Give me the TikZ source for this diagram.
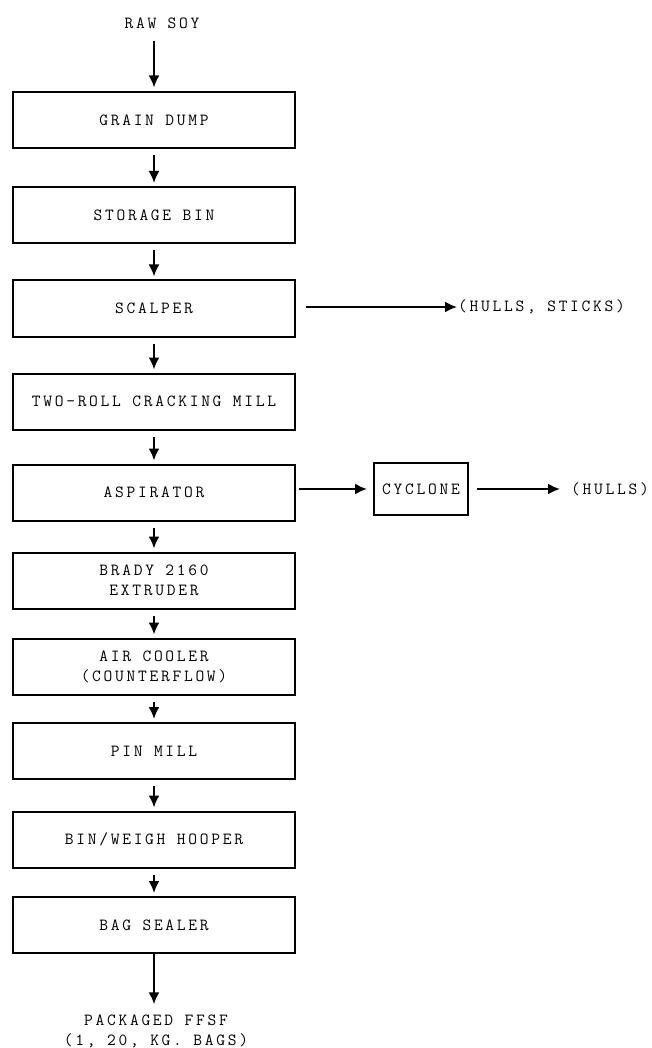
\documentclass[tikz,border=0pt]{standalone}
\usepackage{fontspec}
\setmonofont[LetterSpace=16]{Latin Modern Mono}
\usetikzlibrary{arrows.meta}
\tikzset{
  box/.style={draw, line width=2pt, minimum width=282pt, minimum height=56pt, align=center},
  lbl/.style={inner sep=0pt, align=center},
  flow/.style={->, line width=2.2pt},
  side/.style={->, line width=2pt},
}
\begin{document}
\begin{tikzpicture}[x=1pt, y=1pt, >={Latex[length=12pt,width=11pt]},
    font=\ttfamily\fontsize{17}{20}\selectfont]
\useasboundingbox (0,0) rectangle (652,-1048);
% main line
\node[lbl] (soy) at (162,-23) {RAW SOY};
\node[box] (dump) at (154,-120.5) {GRAIN DUMP};
\node[box] (storage) at (154,-215) {STORAGE BIN};
\node[box] (scalper) at (154,-308.5) {SCALPER};
\node[box] (cracking) at (154,-401.5) {TWO-ROLL CRACKING MILL};
\node[box] (aspirator) at (154,-492.5) {ASPIRATOR};
\node[box] (extruder) at (154,-580.5) {BRADY 2160\\EXTRUDER};
\node[box] (cooler) at (154,-666.5) {AIR COOLER\\(COUNTERFLOW)};
\node[box] (pinmill) at (154,-751) {PIN MILL};
\node[box] (hopper) at (154,-839.5) {BIN/WEIGH HOOPER};
\node[box] (sealer) at (154,-925) {BAG SEALER};
\node[lbl] (packaged) at (156,-1031) {PACKAGED FFSF\\(1, 20, KG. BAGS)};
% side branches
\node[box, minimum width=94pt, minimum height=52pt, inner sep=1pt] (cyclone) at (421,-489) {CYCLONE};
\node[lbl, anchor=west] (sticks) at (458,-307) {(HULLS, STICKS)};
\node[lbl, anchor=west] (hulls) at (571,-489) {(HULLS)};

\draw[flow, shorten <=12pt, shorten >=4pt] (soy.south -| dump.north) -- (dump.north);
\foreach \a/\b in {dump/storage, storage/scalper, scalper/cracking, cracking/aspirator,
    aspirator/extruder, extruder/cooler, cooler/pinmill, pinmill/hopper, hopper/sealer}
  \draw[flow, shorten <=6pt, shorten >=3pt] (\a) -- (\b);
\draw[flow, shorten >=10pt] (sealer) -- (sealer |- packaged.north);

\draw[side, shorten <=10pt, shorten >=1pt] (scalper.east |- sticks.west) -- (sticks.west);
\draw[side, shorten <=3pt, shorten >=6pt] (aspirator.east |- cyclone.west) -- (cyclone.west);
\draw[side, shorten <=8pt, shorten >=11pt] (cyclone.east) -- (hulls.west);
\end{tikzpicture}
\end{document}
